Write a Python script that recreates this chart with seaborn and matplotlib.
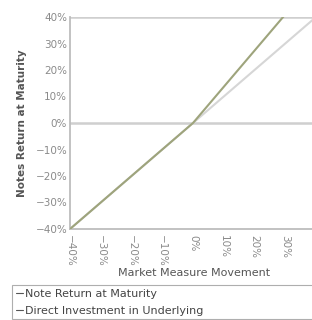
import matplotlib
matplotlib.use("Agg")
import matplotlib.pyplot as plt
import seaborn as sns
import pandas as pd
from matplotlib.ticker import FuncFormatter
from matplotlib.lines import Line2D

sns.set_style("white")
plt.rcParams['font.family'] = ['DejaVu Sans']

market = [-40, -30, -20, -10, 0, 10, 20, 30, 40]
note_return = [-40, -30, -20, -10, 0, 13.65, 27.3, 40.95, 54.6]
direct = [-40, -30, -20, -10, 0, 10, 20, 30, 40]
series_names = ["Note Return at Maturity", "Direct Investment in Underlying"]
x_ticks = [-40, -30, -20, -10, 0, 10, 20, 30, 40]
y_ticks = [-40, -30, -20, -10, 0, 10, 20, 30, 40]

df = pd.DataFrame({
    "market": market * 2,
    "value": note_return + direct,
    "series": [series_names[0]] * len(market) + [series_names[1]] * len(market),
})

fig = plt.figure(figsize=(3.12, 3.2), dpi=100)
ax = fig.add_axes([70/312, 1 - 229/320, 246/312, 212/320])

for yv in [0, 40]:
    ax.axhline(yv, color="#cfcfcf", lw=1.8, zorder=1)

sns.lineplot(data=df, x="market", y="value", hue="series",
             palette={series_names[0]: "#9ea47c", series_names[1]: "#d6d6d6"},
             hue_order=[series_names[1], series_names[0]],
             linewidth=1.5, ax=ax, legend=False, zorder=3)

ax.set_xlim(-40, 40)
ax.set_ylim(-40, 40)
ax.set_xticks(x_ticks)
ax.set_yticks(y_ticks)
fmt = FuncFormatter(lambda v, p: f"{int(v)}%".replace("-", "\u2212"))
ax.xaxis.set_major_formatter(fmt)
ax.yaxis.set_major_formatter(fmt)
for s in ["top", "right"]:
    ax.spines[s].set_visible(False)
for s in ["left", "bottom"]:
    ax.spines[s].set_color("#bdbdbd")
    ax.spines[s].set_linewidth(1.3)
ax.tick_params(axis="x", direction="out", length=3, width=0.8, color="#bdbdbd",
               labelsize=7.5, labelcolor="#8a8a8a", labelrotation=-90, pad=1)
ax.tick_params(axis="y", direction="out", length=0, labelsize=7.5,
               labelcolor="#8a8a8a", pad=2)
ax.set_xlabel("Market Measure Movement", fontsize=8, color="#555555")
ax.set_ylabel("Notes Return at Maturity", fontsize=7.5, color="#555555",
              fontweight="bold")
ax.xaxis.set_label_coords((194 - 70) / 246, -(273 - 229) / 212)
ax.xaxis.label.set_va("center")
ax.yaxis.set_label_coords(-(70 - 22) / 246, (229 - 123) / 212)
ax.yaxis.label.set_va("center")

handles = [Line2D([], [], color="#555555", lw=0.8),
           Line2D([], [], color="#555555", lw=0.8)]
leg = fig.legend(handles, series_names, loc="upper left",
                 bbox_to_anchor=(12/312, 1 - 285/320, 1.0, 0.0001),
                 mode="expand", frameon=True,
                 fancybox=False, fontsize=8, handlelength=0.6,
                 handletextpad=0.2, borderpad=0.35, labelspacing=0.6,
                 borderaxespad=0)
leg.get_frame().set_edgecolor("#9a9a9a")
leg.get_frame().set_linewidth(0.8)
for t in leg.get_texts():
    t.set_color("#444444")

fig.savefig("out.png", dpi=100)
